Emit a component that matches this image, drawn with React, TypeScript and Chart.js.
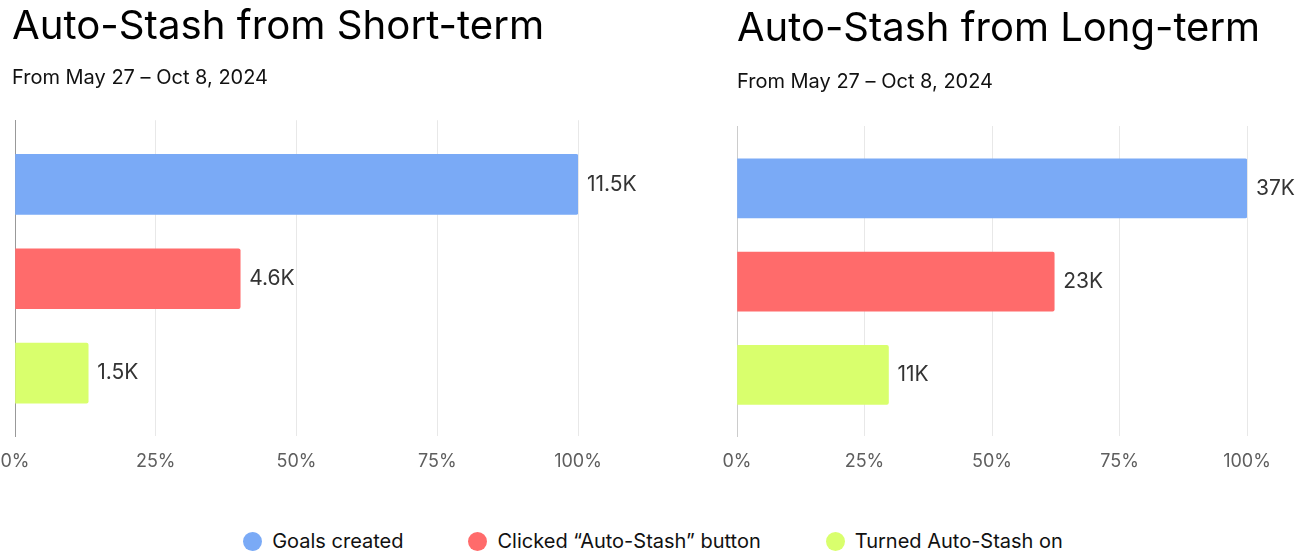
import React, { useEffect, useRef } from "react";
import { Chart, registerables } from "chart.js";

Chart.register(...registerables);

const categories = ["Goals created", "Clicked \u201cAuto-Stash\u201d button", "Turned Auto-Stash on"];
const colors = ["#7AAAF6", "#FF6B6B", "#D9FF6D"];
const xTicks = [0, 25, 50, 75, 100];

const shortTitle = "Auto-Stash from Short-term";
const longTitle = "Auto-Stash from Long-term";
const subtitleText = "From May 27 \u2013 Oct 8, 2024";

const shortPercent = [100, 40, 13];
const shortLabels = ["11.5K", "4.6K", "1.5K"];
const longPercent = [100, 62.2, 29.7];
const longLabels = ["37K", "23K", "11K"];

const FONT = "Inter, 'Noto Sans', sans-serif";

const valueLabelPlugin = {
  id: "valueLabels",
  afterDatasetsDraw(chart: any, _args: any, opts: any) {
    const ctx = chart.ctx;
    const meta = chart.getDatasetMeta(0);
    const labels: string[] = opts.labels || [];
    ctx.save();
    ctx.font = `400 21px ${FONT}`;
    ctx.fillStyle = "#333333";
    ctx.textAlign = "left";
    ctx.textBaseline = "middle";
    meta.data.forEach((bar: any, i: number) => {
      ctx.fillText(labels[i], bar.x + 9, bar.y);
    });
    ctx.restore();
  },
};

type PanelProps = {
  title: string;
  titleSize: number;
  percents: number[];
  labels: string[];
  width: number;
  padLeft: number;
  axisWidth: number;
  padRight: number;
  titleTop: number;
  titleBottom: number;
  subBottom: number;
  yBorder: string;
  thickness: number;
  yMin: number;
  yMax: number;
};

function Panel(p: PanelProps) {
  const ref = useRef<HTMLCanvasElement>(null);
  useEffect(() => {
    if (!ref.current) return;
    const chart = new Chart(ref.current, {
      type: "bar",
      data: {
        labels: categories,
        datasets: [
          {
            data: p.percents.map((v, i) => ({ x: v, y: i })) as any,
            backgroundColor: colors,
            borderRadius: 2,
            borderSkipped: "start",
            barThickness: p.thickness,
          },
        ],
      },
      plugins: [valueLabelPlugin],
      options: {
        animation: false,
        responsive: false,
        indexAxis: "y",
        layout: { padding: { left: p.padLeft, right: 0, top: 0, bottom: 0 } },
        scales: {
          x: {
            type: "linear",
            min: 0,
            max: 100,
            afterBuildTicks: (s: any) => {
              s.ticks = xTicks.map((v) => ({ value: v }));
            },
            afterFit: (s: any) => {
              s.paddingLeft = 0;
              s.paddingRight = p.padRight;
            },
            grid: { color: "#E8E8E8", drawTicks: false, lineWidth: 1 },
            border: { display: false },
            ticks: {
              padding: 14,
              color: "#5E5E5E",
              font: { family: FONT, size: 18 },
              callback: (v: any) => `${v}%`,
            },
          },
          y: {
            type: "linear",
            reverse: true,
            offset: false,
            min: p.yMin,
            max: p.yMax,
            grid: { display: false },
            border: { display: true, color: p.yBorder, width: 1 },
            ticks: { display: false },
            afterFit: (s: any) => {
              s.width = p.axisWidth;
            },
          },
        },
        plugins: {
          legend: { display: false },
          tooltip: { enabled: false },
          title: {
            display: true,
            text: p.title,
            align: "start",
            color: "#000000",
            font: { family: FONT, size: p.titleSize, weight: "normal", lineHeight: 1.2 },
            padding: { top: p.titleTop, bottom: p.titleBottom },
          },
          subtitle: {
            display: true,
            text: subtitleText,
            align: "start",
            color: "#111111",
            font: { family: FONT, size: 20, weight: "normal", lineHeight: 1.2 },
            padding: { top: 0, bottom: p.subBottom },
          },
          valueLabels: { labels: p.labels },
        } as any,
      },
    } as any);
    return () => chart.destroy();
  }, []);
  return <canvas ref={ref} width={p.width} height={486} style={{ display: "block" }} />;
}

export default function App() {
  return (
    <div style={{ position: "absolute", left: 0, top: 0, width: 1306, height: 553, background: "#fff", overflow: "hidden" }}>
      <div style={{ position: "absolute", left: 0, top: 0, width: 650, height: 486 }}>
        <Panel
          title={shortTitle}
          titleSize={40.2}
          percents={shortPercent}
          labels={shortLabels}
          width={650}
          padLeft={12}
          axisWidth={3}
          padRight={72}
          titleTop={3}
          titleBottom={15}
          subBottom={30}
          yBorder="#999999"
          thickness={60}
          yMin={-0.68}
          yMax={2.67}
        />
      </div>
      <div style={{ position: "absolute", left: 722, top: 0, width: 584, height: 486 }}>
        <Panel
          title={longTitle}
          titleSize={40}
          percents={longPercent}
          labels={longLabels}
          width={584}
          padLeft={15}
          axisWidth={0}
          padRight={59}
          titleTop={5.2}
          titleBottom={16.8}
          subBottom={32}
          yBorder="#CCCCCC"
          thickness={59}
          yMin={-0.67}
          yMax={2.66}
        />
      </div>
      <div
        style={{
          position: "absolute",
          left: 0,
          top: 529,
          width: 1306,
          display: "flex",
          justifyContent: "center",
          alignItems: "center",
          gap: 65,
          fontFamily: FONT,
          fontSize: 20,
          color: "#111",
          lineHeight: "24px",
        }}
      >
        {categories.map((c, i) => (
          <div key={c} style={{ display: "flex", alignItems: "center" }}>
            <span
              style={{
                display: "inline-block",
                width: 19,
                height: 19,
                borderRadius: "50%",
                background: colors[i],
                marginRight: 10,
              }}
            />
            <span>{c}</span>
          </div>
        ))}
      </div>
    </div>
  );
}
